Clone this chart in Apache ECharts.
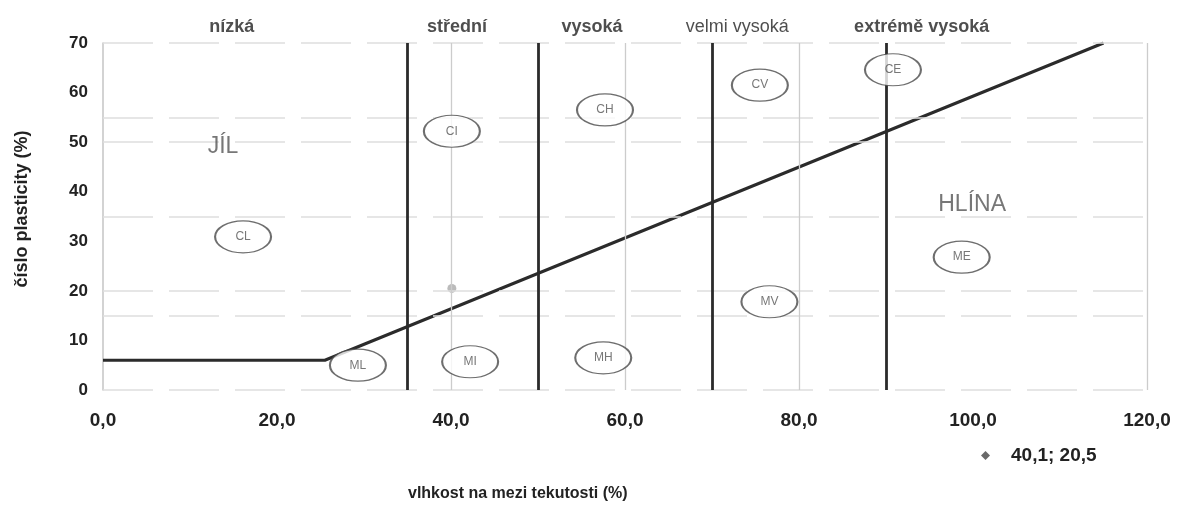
<!DOCTYPE html>
<html>
<head>
<meta charset="utf-8">
<script src="https://cdn.jsdelivr.net/npm/echarts@6/dist/echarts.min.js"></script>
<style>
html, body { margin: 0; padding: 0; background: #fff; }
#chart { width: 1180px; height: 508px; }
</style>
</head>
<body>
<div id="chart"></div>
<script>
// A-line (hranice jíl / hlína)
const aLineX = [0, 25.5, 115]
const aLineY = [6, 6, 70]

// svislé hranice meze tekutosti
const boundaryX = [35, 50, 70, 90]

// slabé mřížkové čáry z předlohy
const gridLineY = [0, 15, 20, 35, 50, 55, 70]
const gridLineX = [40, 60, 80, 120]

// popisky pásem nahoře
const zoneNames = ['nízká', 'střední', 'vysoká', 'velmi vysoká', 'extrémě vysoká']
const zoneX = [14.8, 40.7, 56.2, 72.9, 94.1]

// symboly zemin v elipsách
const groupNames = ['CL', 'ML', 'CI', 'MI', 'CH', 'MH', 'CV', 'MV', 'CE', 'ME']
const groupX = [16.1, 29.3, 40.1, 42.2, 57.7, 57.5, 75.5, 76.6, 90.8, 98.7]
const groupY = [30.9, 5.0, 52.2, 5.7, 56.5, 6.5, 61.5, 17.8, 64.6, 26.8]

const soilNames = ['JÍL', 'HLÍNA']
const soilX = [13.8, 99.9]
const soilY = [49, 37.3]

// měřený vzorek
const sampleX = [40.1]
const sampleY = [20.5]
const sampleName = '40,1; 20,5'

const font = '"Liberation Sans", Arial, sans-serif'
const zip = (xs, ys) => xs.map((x, i) => [x, ys[i]])

const option = {
  animation: false,
  textStyle: { fontFamily: font },
  grid: { left: 103, right: 33, top: 43, bottom: 118 },
  legend: {
    left: 976,
    top: 441,
    itemWidth: 9,
    itemHeight: 9,
    data: [{ name: sampleName, icon: 'diamond', itemStyle: { color: '#444' } }],
    textStyle: { fontSize: 19, fontWeight: 'bold', color: '#222', padding: [0, 0, 0, 16] }
  },
  xAxis: {
    type: 'value',
    min: 0,
    max: 120,
    interval: 20,
    axisLine: { show: false },
    axisTick: { show: false },
    splitLine: { show: false },
    axisLabel: {
      margin: 21,
      fontSize: 19,
      fontWeight: 'bold',
      color: '#222',
      formatter: v => v.toFixed(1).replace('.', ',')
    }
  },
  yAxis: {
    type: 'value',
    min: 0,
    max: 70,
    interval: 10,
    axisLine: { show: true, lineStyle: { color: '#c4c4c4', width: 1.5 } },
    axisTick: { show: false },
    splitLine: { show: false },
    axisLabel: { margin: 15, fontSize: 17, fontWeight: 'bold', color: '#222' }
  },
  graphic: [
    {
      type: 'text',
      left: 408,
      top: 486,
      style: { text: 'vlhkost na mezi tekutosti (%)', font: 'bold 16px ' + font, fill: '#222' }
    },
    {
      type: 'text',
      x: 22,
      y: 209,
      rotation: Math.PI / 2,
      style: {
        text: 'číslo plasticity (%)',
        font: 'bold 18px ' + font,
        fill: '#222',
        align: 'center',
        verticalAlign: 'middle'
      }
    }
  ],
  series: [
    {
      type: 'line',
      data: [],
      silent: true,
      markLine: {
        symbol: ['none', 'none'],
        label: { show: false },
        lineStyle: { color: '#dedede', width: 1.5, type: [50, 16] },
        data: gridLineY.map(v => ({ yAxis: v }))
      }
    },
    {
      type: 'line',
      data: [],
      silent: true,
      markLine: {
        symbol: ['none', 'none'],
        label: { show: false },
        lineStyle: { color: '#cccccc', width: 1.3, type: 'solid' },
        data: gridLineX.map(v => ({ xAxis: v }))
      }
    },
    {
      type: 'line',
      data: [],
      silent: true,
      z: 3,
      markLine: {
        symbol: ['none', 'none'],
        label: { show: false },
        lineStyle: { color: '#2b2b2b', width: 2.8, type: 'solid' },
        data: boundaryX.map(v => ({ xAxis: v }))
      }
    },
    {
      name: 'A-line',
      type: 'line',
      z: 3,
      data: zip(aLineX, aLineY),
      symbol: 'none',
      lineStyle: { color: '#2b2b2b', width: 3 }
    },
    {
      name: sampleName,
      type: 'scatter',
      z: 4,
      data: zip(sampleX, sampleY),
      symbol: 'circle',
      symbolSize: 9,
      itemStyle: { color: '#aaaaaa' }
    },
    {
      type: 'scatter',
      z: 6,
      silent: true,
      data: groupNames.map((n, i) => ({ name: n, value: [groupX[i], groupY[i]] })),
      symbol: 'circle',
      symbolSize: [56, 32],
      itemStyle: { color: '#fff', borderColor: '#4a4a4a', borderWidth: 1.6 },
      label: {
        show: true,
        position: 'inside',
        formatter: '{b}',
        fontSize: 12,
        color: '#555'
      }
    },
    {
      type: 'scatter',
      z: 6,
      silent: true,
      data: soilNames.map((n, i) => ({ name: n, value: [soilX[i], soilY[i]] })),
      symbolSize: 0,
      label: {
        show: true,
        position: 'inside',
        formatter: '{b}',
        color: '#555',
        fontSize: 23
      }
    },
    {
      type: 'scatter',
      z: 6,
      silent: true,
      clip: false,
      data: zoneNames.map((n, i) => ({
        name: n,
        value: [zoneX[i], 70],
        label: { fontWeight: n === 'velmi vysoká' ? 'normal' : 'bold' }
      })),
      symbolSize: 0,
      label: {
        show: true,
        position: 'top',
        distance: 7,
        formatter: '{b}',
        fontSize: 18,
        color: '#222'
      }
    }
  ]
}

const chart = echarts.init(document.getElementById('chart'))
chart.setOption(option)
window.addEventListener('resize', () => chart.resize())
</script>
</body>
</html>
